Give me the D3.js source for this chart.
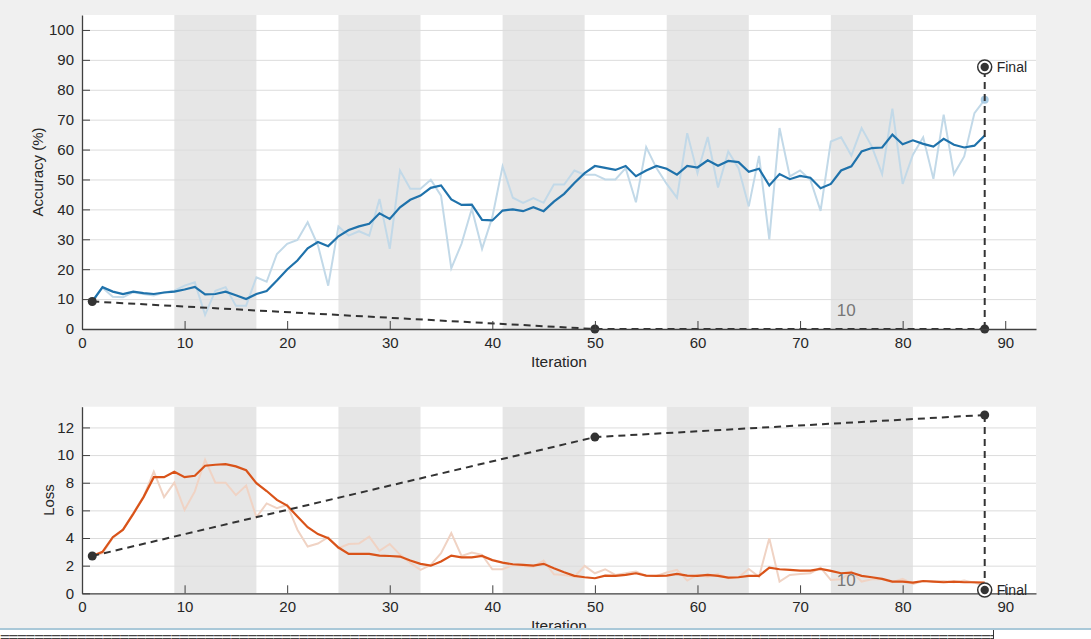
<!DOCTYPE html>
<html>
<head>
<meta charset="utf-8">
<script src="https://cdn.jsdelivr.net/npm/d3@7"></script>
<style>
  body { margin: 0; background: #f0f0f0; }
  svg { display: block; font-family: "Liberation Sans", Arial, sans-serif; }
  .tick text { fill: #262626; font-size: 15px; }
  .grid line { stroke: #dcdcdc; stroke-width: 1; }
  .grid path { display: none; }
</style>
</head>
<body>
<div id="chart"></div>
<script>
// iteration numbers 1..88
var iterations = d3.range(1, 89);

// shaded epoch bands (iteration start / end)
var epochBands = [[9, 17], [25, 33], [41, 49], [57, 65], [73, 81]];

var accRaw = [
  9.2, 13.8, 10.8, 10.6, 12.3, 11.7, 11.2, 12.2, 12.8, 14.5,
  15.6, 4.7, 12.8, 14.0, 7.8, 7.8, 17.3, 15.8, 25.1, 28.5,
  29.8, 35.7, 28.0, 14.5, 34.3, 31.2, 32.7, 31.2, 43.5, 26.8,
  53.0, 46.9, 46.9, 49.9, 44.6, 20.3, 28.5, 40.2, 26.8, 37.4,
  54.4, 43.9, 42.2, 43.8, 42.2, 48.3, 48.3, 53.0, 51.6, 51.6,
  50.0, 50.0, 53.8, 42.4, 60.8, 53.8, 48.5, 43.9, 65.5, 52.1,
  64.2, 47.3, 59.4, 53.8, 41.0, 57.9, 30.0, 67.2, 51.0, 53.0,
  49.9, 39.5, 62.7, 64.1, 58.0, 67.2, 61.0, 51.8, 73.7, 48.5,
  58.3, 64.1, 50.2, 71.7, 51.8, 57.7, 72.2, 76.7
];
var accSmooth = [
  9.2, 14.0, 12.5, 11.7, 12.5, 12.0, 11.7, 12.2, 12.5, 13.2,
  14.1, 11.6, 11.7, 12.5, 11.3, 10.0, 11.7, 12.7, 16.2, 19.9,
  22.9, 27.0, 29.1, 27.7, 31.0, 33.1, 34.3, 35.2, 38.7, 36.8,
  40.7, 43.2, 44.6, 47.2, 48.0, 43.3, 41.5, 41.6, 36.5, 36.3,
  39.6, 40.0, 39.4, 40.7, 39.4, 42.6, 45.2, 48.8, 52.1, 54.5,
  53.9, 53.2, 54.5, 51.1, 53.0, 54.5, 53.6, 51.6, 54.5, 54.0,
  56.4, 54.6, 56.2, 55.8, 52.6, 53.6, 48.0, 51.8, 50.1, 51.2,
  50.6, 47.1, 48.5, 53.0, 54.4, 59.4, 60.5, 60.7, 65.0, 61.8,
  63.1, 61.9, 61.0, 63.6, 61.6, 60.7, 61.3, 64.7
];
var lossRaw = [
  2.70, 2.90, 4.00, 4.60, 5.80, 7.00, 8.80, 6.96, 8.00, 6.04,
  7.37, 9.66, 8.00, 8.00, 7.10, 7.80, 5.50, 6.50, 6.16, 6.40,
  4.60, 3.38, 3.60, 4.06, 3.26, 3.57, 3.60, 4.10, 3.07, 3.57,
  2.80, 2.20, 1.70, 2.05, 2.90, 4.35, 2.70, 2.95, 2.78, 1.74,
  1.74, 2.05, 1.98, 1.93, 2.37, 1.38, 1.33, 1.20, 1.98, 1.45,
  1.74, 1.33, 1.45, 1.57, 1.26, 1.26, 1.50, 1.70, 0.92, 1.33,
  1.20, 1.40, 1.09, 1.16, 1.76, 1.20, 3.99, 0.85, 1.33, 1.40,
  1.45, 1.86, 0.97, 1.01, 1.57, 0.85, 1.01, 1.01, 0.80, 1.04,
  0.68, 0.89, 0.85, 0.89, 0.80, 0.92, 0.77, 0.53
];
var lossSmooth = [
  2.70, 3.00, 4.06, 4.60, 5.75, 6.96, 8.40, 8.40, 8.80, 8.40,
  8.50, 9.23, 9.30, 9.35, 9.18, 8.90, 7.97, 7.40, 6.76, 6.35,
  5.56, 4.78, 4.28, 3.99, 3.31, 2.85, 2.85, 2.85, 2.73, 2.70,
  2.66, 2.37, 2.13, 2.00, 2.30, 2.73, 2.60, 2.60, 2.70, 2.40,
  2.22, 2.10, 2.05, 2.00, 2.13, 1.81, 1.52, 1.26, 1.16, 1.09,
  1.28, 1.26, 1.33, 1.45, 1.28, 1.26, 1.28, 1.40, 1.28, 1.26,
  1.33, 1.26, 1.14, 1.16, 1.26, 1.26, 1.86, 1.74, 1.70, 1.64,
  1.64, 1.76, 1.62, 1.45, 1.50, 1.26, 1.16, 1.04, 0.85, 0.85,
  0.77, 0.89, 0.85, 0.80, 0.85, 0.80, 0.80, 0.77
];

// dashed overlay path and "Final" markers
var dashIter = [1, 50, 88];
var accDash = [9.2, 0, 0];
var lossDash = [2.7, 11.3, 12.9];
var finalIter = 88;
var accFinal = 87.6;
var lossFinal = 0.24;
var bandLabel = "10";
var bandLabelIter = 74.5;

var xTicks = d3.range(0, 91, 10);
var accTicks = d3.range(0, 101, 10);
var lossTicks = d3.range(0, 13, 2);

var W = 1091, H = 639;
var svg = d3.select("#chart").append("svg").attr("width", W).attr("height", H);

svg.append("rect").attr("width", W).attr("height", H).attr("fill", "#f0f0f0");

var left = 82, right = 1036;
var x = d3.scaleLinear().domain([0, 93]).range([left, right]);

function panel(opt) {
  var y = d3.scaleLinear().domain(opt.ydomain).range([opt.bottom, opt.top]);
  var g = svg.append("g");

  g.append("rect").attr("x", left).attr("y", opt.top)
    .attr("width", right - left).attr("height", opt.bottom - opt.top).attr("fill", "#fff");

  g.selectAll(".band").data(epochBands).enter().append("rect")
    .attr("x", function(d) { return x(d[0]); })
    .attr("y", opt.top)
    .attr("width", function(d) { return x(d[1]) - x(d[0]); })
    .attr("height", opt.bottom - opt.top)
    .attr("fill", "#e6e6e6");

  g.append("g").attr("class", "grid")
    .attr("transform", "translate(" + left + ",0)")
    .call(d3.axisLeft(y).tickValues(opt.ticks.slice(1)).tickSize(-(right - left)).tickFormat(""));

  var line = d3.line()
    .x(function(d, i) { return x(iterations[i]); })
    .y(function(d) { return y(d); });

  g.append("path").datum(opt.raw).attr("d", line)
    .attr("fill", "none").attr("stroke", opt.rawColor).attr("stroke-width", 2);
  g.append("path").datum(opt.smooth).attr("d", line)
    .attr("fill", "none").attr("stroke", opt.color).attr("stroke-width", 2.2);

  if (opt.rawEndDot) {
    g.append("circle").attr("cx", x(iterations[iterations.length - 1]))
      .attr("cy", y(opt.raw[opt.raw.length - 1])).attr("r", 4).attr("fill", "#a9cbe3");
  }

  // dashed overlay
  var dline = d3.line()
    .x(function(d, i) { return x(dashIter[i]); })
    .y(function(d) { return y(d); });
  g.append("path").datum(opt.dash).attr("d", dline)
    .attr("fill", "none").attr("stroke", "#333").attr("stroke-width", 2)
    .attr("stroke-dasharray", "7,5");
  g.append("line")
    .attr("x1", x(finalIter)).attr("x2", x(finalIter))
    .attr("y1", y(opt.dash[opt.dash.length - 1])).attr("y2", y(opt.final))
    .attr("stroke", "#333").attr("stroke-width", 2).attr("stroke-dasharray", "7,5");
  g.selectAll(".ddot").data(opt.dash).enter().append("circle")
    .attr("cx", function(d, i) { return x(dashIter[i]); })
    .attr("cy", function(d) { return y(d); })
    .attr("r", 4.5).attr("fill", "#333");

  g.append("text").attr("x", x(bandLabelIter)).attr("y", y(opt.labelY))
    .attr("text-anchor", "middle").attr("font-size", 17).attr("fill", "#777").text(bandLabel);

  // axes
  var ax = g.append("g").attr("transform", "translate(0," + opt.bottom + ")")
    .call(d3.axisBottom(x).tickValues(xTicks).tickSizeInner(-8).tickSizeOuter(0).tickPadding(8));
  var ay = g.append("g").attr("transform", "translate(" + left + ",0)")
    .call(d3.axisLeft(y).tickValues(opt.ticks).tickSizeInner(-8).tickSizeOuter(0).tickPadding(8));
  [ax, ay].forEach(function(a) {
    a.select(".domain").attr("stroke", "#404040").attr("stroke-width", 1.3);
    a.selectAll(".tick line").attr("stroke", "#404040");
  });

  // final marker on top of axes
  g.append("circle").attr("cx", x(finalIter)).attr("cy", y(opt.final))
    .attr("r", 7).attr("fill", "#fff").attr("stroke", "#333").attr("stroke-width", 1.5);
  g.append("circle").attr("cx", x(finalIter)).attr("cy", y(opt.final))
    .attr("r", 4.2).attr("fill", "#333");
  g.append("text").attr("x", x(finalIter) + 12).attr("y", y(opt.final) + 5)
    .attr("font-size", 14).attr("fill", "#262626").text("Final");

  g.append("text").attr("transform", "translate(" + opt.ylabelX + "," + ((opt.top + opt.bottom) / 2) + ") rotate(-90)")
    .attr("text-anchor", "middle").attr("font-size", 15).attr("fill", "#262626").text(opt.ylabel);
  g.append("text").attr("x", (left + right) / 2 + 0).attr("y", opt.bottom + 38)
    .attr("text-anchor", "middle").attr("font-size", 15.5).attr("fill", "#262626").text("Iteration");
}

panel({
  top: 15, bottom: 329, ydomain: [0, 105], ticks: accTicks,
  raw: accRaw, smooth: accSmooth, color: "#1f72ab", rawColor: "#c2d9e8",
  rawEndDot: true, dash: accDash, final: accFinal, labelY: 4.2,
  ylabel: "Accuracy (%)", ylabelX: 43
});

panel({
  top: 406.7, bottom: 593.3, ydomain: [0, 13.5], ticks: lossTicks,
  raw: lossRaw, smooth: lossSmooth, color: "#d95319", rawColor: "#f0d3c4",
  rawEndDot: false, dash: lossDash, final: lossFinal, labelY: 0.55,
  ylabel: "Loss", ylabelX: 54
});

// bottom console strip
svg.append("rect").attr("x", 0).attr("y", 628).attr("width", W).attr("height", 11).attr("fill", "#fff");
svg.append("rect").attr("x", 0).attr("y", 628).attr("width", W).attr("height", 2).attr("fill", "#a9c8d8");
svg.append("clipPath").attr("id", "stripclip").append("rect")
  .attr("x", 0).attr("y", 630).attr("width", 993).attr("height", 9);
svg.append("text").attr("x", 0).attr("y", 642).attr("clip-path", "url(#stripclip)")
  .attr("font-family", "DejaVu Sans Mono, monospace").attr("font-size", 16)
  .attr("letter-spacing", -1.1).attr("fill", "#444")
  .text(d3.range(125).map(function() { return "="; }).join(""));
svg.append("line").attr("x1", 993.5).attr("x2", 993.5).attr("y1", 630).attr("y2", 639)
  .attr("stroke", "#333").attr("stroke-width", 1);
</script>
</body>
</html>
